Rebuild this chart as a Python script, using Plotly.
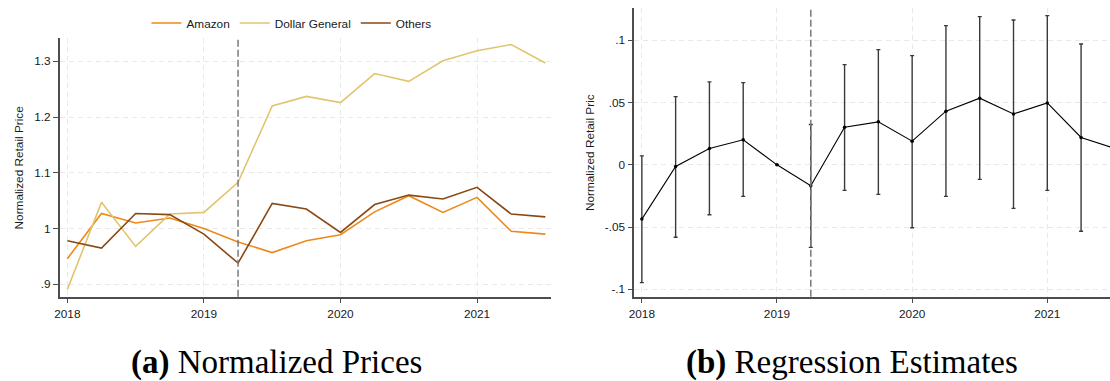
import plotly.graph_objects as go

# Quarterly observation dates (decimal years)
quarters = [2018.0, 2018.25, 2018.5, 2018.75, 2019.0, 2019.25, 2019.5, 2019.75,
            2020.0, 2020.25, 2020.5, 2020.75, 2021.0, 2021.25, 2021.5]

# Panel (a): normalized retail prices by seller
amazon = [0.946, 1.027, 1.010, 1.019, 1.000, 0.976, 0.957, 0.978,
          0.989, 1.030, 1.059, 1.029, 1.056, 0.995, 0.990]
dollar_general = [0.891, 1.047, 0.968, 1.026, 1.029, 1.083, 1.220, 1.237,
                  1.226, 1.278, 1.264, 1.301, 1.319, 1.330, 1.297]
others = [0.978, 0.965, 1.027, 1.025, 0.990, 0.938, 1.045, 1.035,
          0.993, 1.043, 1.060, 1.053, 1.074, 1.026, 1.021]

# Panel (b): event-study coefficients with 95% confidence bounds
# (2019 Q1 is the omitted reference quarter)
estimate = [-0.0436, -0.0013, 0.0131, 0.0201, 0.0, -0.0168, 0.0302, 0.0345,
            0.0190, 0.0431, 0.0535, 0.0409, 0.0497, 0.0220, 0.0132]
upper_ci = [0.0072, 0.0548, 0.0666, 0.0660, None, 0.0324, 0.0805, 0.0925,
            0.0877, 0.1118, 0.1190, 0.1163, 0.1198, 0.0970, 0.0900]
lower_ci = [-0.0946, -0.0582, -0.0401, -0.0253, None, -0.0663, -0.0205, -0.0237,
            -0.0505, -0.0253, -0.0117, -0.0350, -0.0205, -0.0534, -0.0640]

year_ticks = [2018, 2019, 2020, 2021]
year_labels = ["2018", "2019", "2020", "2021"]
price_ticks = [0.9, 1.0, 1.1, 1.2, 1.3]
price_labels = [".9", "1", "1.1", "1.2", "1.3"]
coef_ticks = [-0.1, -0.05, 0.0, 0.05, 0.1]
coef_labels = ["-.1", "-.05", "0", ".05", ".1"]
event_date = 2019.25

W, H = 1110, 381
AXIS_COLOR = "#4d4d4d"
GRID_COLOR = "#e9e9e9"
TEXT_COLOR = "#1a1a1a"
SANS = "Liberation Sans, Arial, sans-serif"

fig = go.Figure()

series = [("Amazon", amazon, "#ED891B"),
          ("Dollar General", dollar_general, "#E1C56E"),
          ("Others", others, "#8A4914")]
for name, vals, color in series:
    fig.add_trace(go.Scatter(x=quarters, y=vals, name=name, mode="lines",
                             line=dict(color=color, width=1.6),
                             xaxis="x", yaxis="y"))

err_plus = [None if u is None else u - e for u, e in zip(upper_ci, estimate)]
err_minus = [None if l is None else e - l for l, e in zip(lower_ci, estimate)]
fig.add_trace(go.Scatter(
    x=quarters, y=estimate, mode="lines+markers", showlegend=False,
    line=dict(color="black", width=1.1),
    marker=dict(color="black", size=3.5),
    error_y=dict(type="data", symmetric=False, array=err_plus,
                 arrayminus=err_minus, color="#3a3a3a", thickness=1.4, width=2),
    xaxis="x2", yaxis="y2"))


def px_x(p):
    return p / W


def px_y(p):
    return (H - p) / H


axis_common = dict(showline=True, linecolor=AXIS_COLOR, linewidth=1.5,
                   ticks="outside", ticklen=5, tickwidth=1.3, tickcolor=AXIS_COLOR,
                   showgrid=True, gridcolor=GRID_COLOR, gridwidth=1,
                   griddash="5px,4px", zeroline=False,
                   tickfont=dict(family=SANS, size=11.8, color=TEXT_COLOR))

fig.update_layout(
    width=W, height=H,
    margin=dict(l=0, r=0, t=0, b=0),
    paper_bgcolor="white", plot_bgcolor="white",
    xaxis=dict(domain=[px_x(54), px_x(548.3)], range=[2017.944, 2021.544],
               tickvals=year_ticks, ticktext=year_labels, anchor="y", **axis_common),
    yaxis=dict(domain=[px_y(296.7), px_y(38.3)], range=[0.8778, 1.3412],
               tickvals=price_ticks, ticktext=price_labels, anchor="x", **axis_common),
    xaxis2=dict(domain=[px_x(631.7), 1.0], range=[2017.944, 2021.464],
                tickvals=year_ticks, ticktext=year_labels, anchor="y2", **axis_common),
    yaxis2=dict(domain=[px_y(296.7), px_y(8.3)], range=[-0.1059, 0.1257],
                tickvals=coef_ticks, ticktext=coef_labels, anchor="x2", **axis_common),
    legend=dict(orientation="h", x=px_x(287), y=px_y(23), xanchor="center",
                yanchor="middle", bgcolor="rgba(0,0,0,0)",
                font=dict(family=SANS, size=11.8, color=TEXT_COLOR)),
    showlegend=True,
)

# Event date marker in both panels
for xr, yr in [("x", "y"), ("x2", "y2")]:
    fig.add_shape(type="line", xref=xr, yref=f"{yr} domain",
                  x0=event_date, x1=event_date, y0=0, y1=1,
                  line=dict(color="#7a7a7a", width=1.5, dash="7px,3px"))

# Axis titles
fig.add_annotation(text="Normalized Retail Price", xref="paper", yref="paper",
                   x=px_x(14), y=px_y(167.5), textangle=-90, showarrow=False,
                   xanchor="center", yanchor="middle",
                   font=dict(family=SANS, size=11.8, color=TEXT_COLOR))
fig.add_annotation(text="Normalized Retail Pric", xref="paper", yref="paper",
                   x=px_x(586.7), y=px_y(152.5), textangle=-90, showarrow=False,
                   xanchor="center", yanchor="middle",
                   font=dict(family=SANS, size=11.8, color=TEXT_COLOR))

# Panel captions
SERIF = "Liberation Serif, Times New Roman, serif"
fig.add_annotation(text="<b>(a)</b> Normalized Prices", xref="paper", yref="paper",
                   x=px_x(271.5), y=px_y(362), showarrow=False,
                   xanchor="center", yanchor="middle",
                   font=dict(family=SERIF, size=33, color="black"))
fig.add_annotation(text="<b>(b)</b> Regression Estimates", xref="paper", yref="paper",
                   x=px_x(851), y=px_y(362), showarrow=False,
                   xanchor="center", yanchor="middle",
                   font=dict(family=SERIF, size=33, color="black"))

fig.write_html("out.html")
